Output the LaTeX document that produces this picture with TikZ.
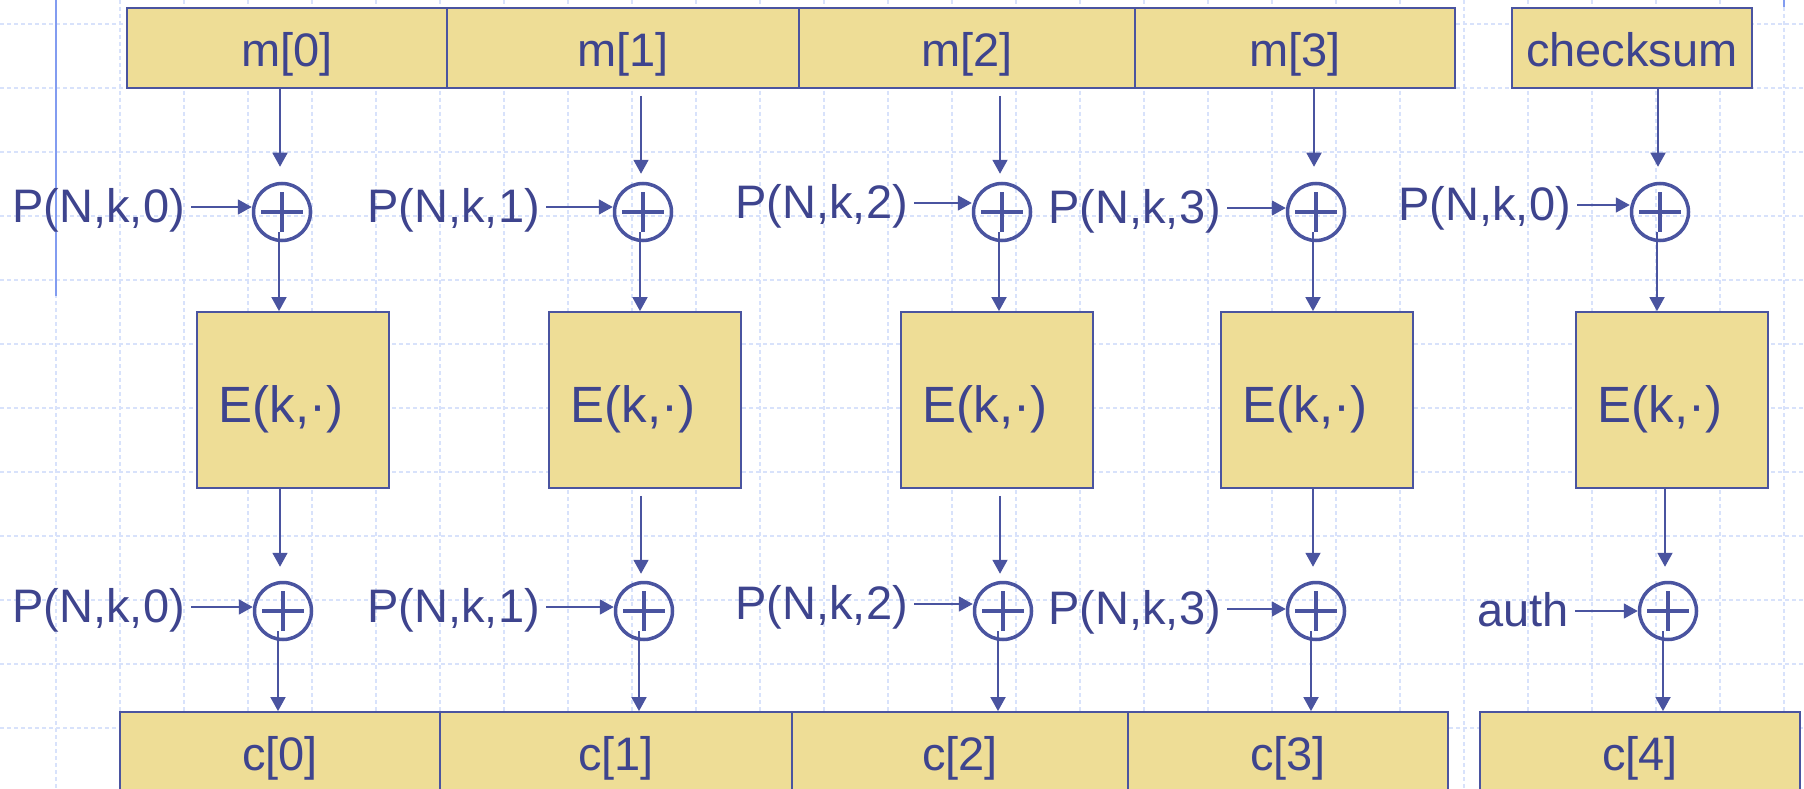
\documentclass[tikz,border=0pt]{standalone}
\usepackage{fontspec}
\setmainfont{Liberation Sans}
\usetikzlibrary{arrows.meta,calc}
\definecolor{lc}{RGB}{74,84,160}
\definecolor{tc}{RGB}{62,68,142}
\definecolor{bf}{RGB}{238,221,150}
\definecolor{gc}{RGB}{216,226,251}
\definecolor{sl}{RGB}{130,156,240}
\begin{document}
\begin{tikzpicture}[x=1pt,y=-1pt,
  box/.style={draw=lc, fill=bf, line width=1.8pt, inner sep=0pt},
  txt/.style={text=tc, font=\fontsize{47pt}{56pt}\selectfont, inner sep=0pt},
  etxt/.style={text=tc, font=\fontsize{51pt}{60pt}\selectfont, inner sep=0pt},
  xor/.style={circle, draw=lc, line width=3.5pt, minimum size=57pt, inner sep=0pt,
    path picture={\draw[lc, line width=4.5pt]
      ([xshift=-21pt]path picture bounding box.center) -- ([xshift=21pt]path picture bounding box.center)
      ([yshift=-20pt]path picture bounding box.center) -- ([yshift=20pt]path picture bounding box.center);}},
  arr/.style={draw=lc, line width=1.8pt, -{Triangle[length=14pt,width=15pt]}},
  gridline/.style={draw=gc, line width=1.6pt, dash pattern=on 4pt off 3pt},
  slideline/.style={draw=sl, line width=2pt}
]
\useasboundingbox (0,0) rectangle (1804,789);
\clip (0,0) rectangle (1804,789);
\fill[white] (0,0) rectangle (1804,789);
% background grid
\foreach \i in {0,...,27} \draw[gridline] ({56+64*\i},0) -- ({56+64*\i},789);
\foreach \j in {0,...,11} \draw[gridline] (0,{24+64*\j}) -- (1804,{24+64*\j});
\draw[slideline] (56,0) -- (56,296);
\draw[slideline] (1784,0) -- (1784,7);

% top boxes
\node[box, minimum width=320pt, minimum height=80pt] (t0) at (287,48) {};
\node[box, minimum width=352pt, minimum height=80pt] (t1) at (623,48) {};
\node[box, minimum width=336pt, minimum height=80pt] (t2) at (967,48) {};
\node[box, minimum width=320pt, minimum height=80pt] (t3) at (1295,48) {};
\node[box, minimum width=240pt, minimum height=80pt] (t4) at (1632,48) {};
\node[txt, anchor=base] (tt0) at (287,67) {m[0]};
\node[txt, anchor=base] (tt1) at (623,67) {m[1]};
\node[txt, anchor=base] (tt2) at (967,67) {m[2]};
\node[txt, anchor=base] (tt3) at (1295,67) {m[3]};
\node[txt, anchor=base] (tt4) at (1632,67) {checksum};

% E boxes
\foreach \k/\x in {0/293,1/645,2/997,3/1317,4/1672} {
  \node[box, minimum width=192pt, minimum height=176pt] (e\k) at (\x,400) {};
  \node[etxt, anchor=base] (et\k) at ({\x-12},422) {E(k,·)};
}

% bottom boxes
\node[box, minimum width=320pt, minimum height=120pt] (c0) at (280,772) {};
\node[box, minimum width=352pt, minimum height=120pt] (c1) at (616,772) {};
\node[box, minimum width=336pt, minimum height=120pt] (c2) at (960,772) {};
\node[box, minimum width=320pt, minimum height=120pt] (c3) at (1288,772) {};
\node[box, minimum width=320pt, minimum height=120pt] (c4) at (1640,772) {};
\node[txt, anchor=base] (ct0) at (280,770) {c[0]};
\node[txt, anchor=base] (ct1) at (616,770) {c[1]};
\node[txt, anchor=base] (ct2) at (960,770) {c[2]};
\node[txt, anchor=base] (ct3) at (1288,770) {c[3]};
\node[txt, anchor=base] (ct4) at (1640,770) {c[4]};

% xor circles
\node[xor] (x10) at (282,212) {};
\node[xor] (x11) at (643,212) {};
\node[xor] (x12) at (1002,212) {};
\node[xor] (x13) at (1316,212) {};
\node[xor] (x14) at (1660,212) {};
\node[xor] (x20) at (283,611) {};
\node[xor] (x21) at (644,611) {};
\node[xor] (x22) at (1003,611) {};
\node[xor] (x23) at (1316,611) {};
\node[xor] (x24) at (1668,611) {};

% side labels
\node[txt, anchor=base east] (p10) at (185,222) {P(N,k,0)};
\node[txt, anchor=base east] (p11) at (540,222) {P(N,k,1)};
\node[txt, anchor=base east] (p12) at (908,218) {P(N,k,2)};
\node[txt, anchor=base east] (p13) at (1221,223) {P(N,k,3)};
\node[txt, anchor=base east] (p14) at (1571,220) {P(N,k,0)};
\node[txt, anchor=base east] (p20) at (185,622) {P(N,k,0)};
\node[txt, anchor=base east] (p21) at (540,622) {P(N,k,1)};
\node[txt, anchor=base east] (p22) at (908,619) {P(N,k,2)};
\node[txt, anchor=base east] (p23) at (1221,624) {P(N,k,3)};
\node[txt, anchor=base east] (p24) at (1569,626) {auth};

% horizontal arrows
\foreach \r in {1,2} {
  \foreach \k in {0,...,4} {
    \coordinate (s\r\k) at ($(p\r\k.base east)+(6,-15)$);
    \draw[arr] (s\r\k) -- (s\r\k -| x\r\k.west);
  }
}

% vertical arrows
\foreach \k/\g in {0/0,1/7,2/7,3/0,4/0} {
  \draw[arr] ($(t\k.south -| x1\k)+(-2,\g)$) -- ($(x1\k.north)+(-2,\g-15)$);
  \draw[arr] ($(x1\k.center)+(-3,20)$) -- ($(x1\k.center |- e\k.north)+(-3,0)$);
  \draw[arr] ($(e\k.south -| x2\k)+(-3,\g)$) -- ($(x2\k.north)+(-3,\g-14)$);
  \draw[arr] ($(x2\k.center)+(-5,20)$) -- ($(x2\k.center |- c\k.north)+(-5,0)$);
}
\end{tikzpicture}
\end{document}
